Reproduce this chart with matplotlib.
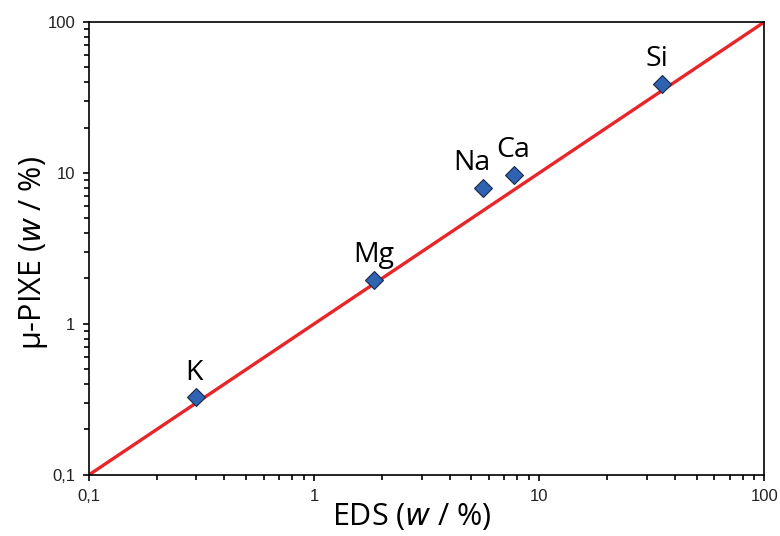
import matplotlib
matplotlib.use('Agg')
import matplotlib.pyplot as plt
from matplotlib.ticker import LogLocator, FuncFormatter, NullFormatter

# EDS vs micro-PIXE
elements = ['K', 'Mg', 'Na', 'Ca', 'Si']
eds = [0.30, 1.85, 5.6, 7.7, 35.2]
pixe = [0.33, 1.95, 7.9, 9.7, 38.9]
line_x = [0.1, 100]
line_y = [0.1, 100]
label_offsets = [(-2, 7), (0, 8), (-8, 8), (0, 8), (-4, 8)]

fig = plt.figure(figsize=(7.8, 5.36), dpi=100)
ax = fig.add_axes([0.114, 0.114, 0.866, 0.845])

ax.plot(line_x, line_y, color='#E8262A', lw=2.4, zorder=2)
ax.plot(eds, pixe, 'D', ms=9, mfc='#2F62B0', mec='#1A2A4A', mew=0.8, zorder=3)

for name, x, y, off in zip(elements, eds, pixe, label_offsets):
    ax.annotate(name, (x, y), xytext=off, textcoords='offset points',
                ha='center', va='bottom', fontsize=20.5, family='Open Sans')

ax.set_xscale('log')
ax.set_yscale('log')
ax.set_xlim(0.1, 100)
ax.set_ylim(0.1, 100)

fmt = FuncFormatter(lambda v, p: ('%g' % v).replace('.', ','))
for axis in (ax.xaxis, ax.yaxis):
    axis.set_major_locator(LogLocator(base=10))
    axis.set_minor_locator(LogLocator(base=10, subs=range(2, 10)))
    axis.set_major_formatter(fmt)
    axis.set_minor_formatter(NullFormatter())

ax.tick_params(which='both', direction='out', top=False, right=False,
               width=1.2, labelsize=12, labelcolor='#222222')
ax.tick_params(which='major', length=4, pad=6)
ax.tick_params(which='minor', length=3.5)
for lab in ax.get_xticklabels() + ax.get_yticklabels():
    lab.set_family('Liberation Sans')
for s in ax.spines.values():
    s.set_linewidth(1.2)

ax.set_xlabel('EDS ($\\mathit{w}$ / %)', fontsize=22, family='Open Sans')
ax.set_ylabel('µ-PIXE ($\\mathit{w}$ / %)', fontsize=22, family='Open Sans')
ax.xaxis.set_label_coords(0.478, -0.058)
ax.yaxis.set_label_coords(-0.058, 0.49)

fig.savefig('out.png', dpi=100)
